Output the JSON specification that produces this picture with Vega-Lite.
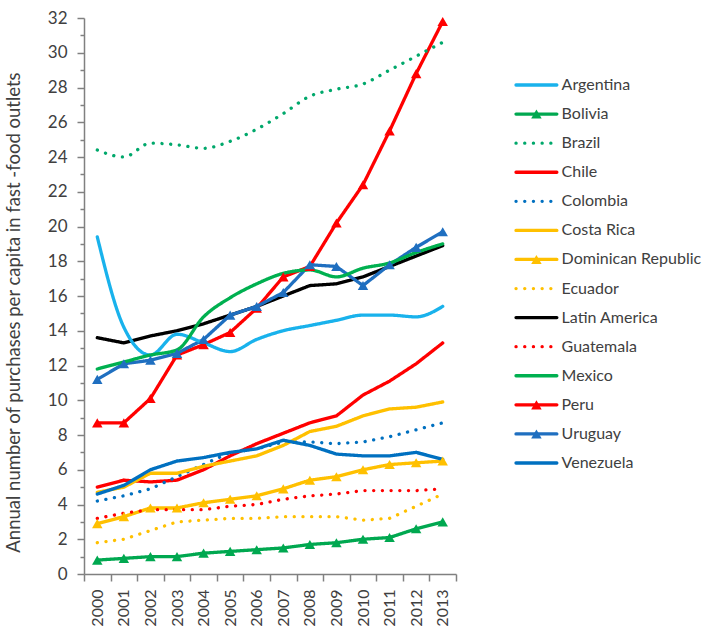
{
  "$schema": "https://vega.github.io/schema/vega-lite/v6.json",
  "padding": {"left": 4, "top": 9, "right": 5, "bottom": 5},
  "background": "white",
  "config": {"view": {"stroke": null}, "font": "Lato"},
  "spacing": 57,
  "datasets": {
    "series": [
      {"country": "Argentina", "year": 2000, "value": 19.4}, {"country": "Argentina", "year": 2001, "value": 14.2}, {"country": "Argentina", "year": 2002, "value": 12.6}, {"country": "Argentina", "year": 2003, "value": 13.8}, {"country": "Argentina", "year": 2004, "value": 13.3}, {"country": "Argentina", "year": 2005, "value": 12.8}, {"country": "Argentina", "year": 2006, "value": 13.5}, {"country": "Argentina", "year": 2007, "value": 14.0}, {"country": "Argentina", "year": 2008, "value": 14.3}, {"country": "Argentina", "year": 2009, "value": 14.6}, {"country": "Argentina", "year": 2010, "value": 14.9}, {"country": "Argentina", "year": 2011, "value": 14.9}, {"country": "Argentina", "year": 2012, "value": 14.8}, {"country": "Argentina", "year": 2013, "value": 15.4},
      {"country": "Bolivia", "year": 2000, "value": 0.8}, {"country": "Bolivia", "year": 2001, "value": 0.9}, {"country": "Bolivia", "year": 2002, "value": 1.0}, {"country": "Bolivia", "year": 2003, "value": 1.0}, {"country": "Bolivia", "year": 2004, "value": 1.2}, {"country": "Bolivia", "year": 2005, "value": 1.3}, {"country": "Bolivia", "year": 2006, "value": 1.4}, {"country": "Bolivia", "year": 2007, "value": 1.5}, {"country": "Bolivia", "year": 2008, "value": 1.7}, {"country": "Bolivia", "year": 2009, "value": 1.8}, {"country": "Bolivia", "year": 2010, "value": 2.0}, {"country": "Bolivia", "year": 2011, "value": 2.1}, {"country": "Bolivia", "year": 2012, "value": 2.6}, {"country": "Bolivia", "year": 2013, "value": 3.0},
      {"country": "Brazil", "year": 2000, "value": 24.4}, {"country": "Brazil", "year": 2001, "value": 24.0}, {"country": "Brazil", "year": 2002, "value": 24.8}, {"country": "Brazil", "year": 2003, "value": 24.7}, {"country": "Brazil", "year": 2004, "value": 24.5}, {"country": "Brazil", "year": 2005, "value": 24.9}, {"country": "Brazil", "year": 2006, "value": 25.6}, {"country": "Brazil", "year": 2007, "value": 26.5}, {"country": "Brazil", "year": 2008, "value": 27.5}, {"country": "Brazil", "year": 2009, "value": 27.9}, {"country": "Brazil", "year": 2010, "value": 28.2}, {"country": "Brazil", "year": 2011, "value": 29.0}, {"country": "Brazil", "year": 2012, "value": 29.8}, {"country": "Brazil", "year": 2013, "value": 30.6},
      {"country": "Chile", "year": 2000, "value": 5.0}, {"country": "Chile", "year": 2001, "value": 5.4}, {"country": "Chile", "year": 2002, "value": 5.3}, {"country": "Chile", "year": 2003, "value": 5.4}, {"country": "Chile", "year": 2004, "value": 6.0}, {"country": "Chile", "year": 2005, "value": 6.8}, {"country": "Chile", "year": 2006, "value": 7.5}, {"country": "Chile", "year": 2007, "value": 8.1}, {"country": "Chile", "year": 2008, "value": 8.7}, {"country": "Chile", "year": 2009, "value": 9.1}, {"country": "Chile", "year": 2010, "value": 10.3}, {"country": "Chile", "year": 2011, "value": 11.1}, {"country": "Chile", "year": 2012, "value": 12.1}, {"country": "Chile", "year": 2013, "value": 13.3},
      {"country": "Colombia", "year": 2000, "value": 4.2}, {"country": "Colombia", "year": 2001, "value": 4.5}, {"country": "Colombia", "year": 2002, "value": 4.9}, {"country": "Colombia", "year": 2003, "value": 5.6}, {"country": "Colombia", "year": 2004, "value": 6.3}, {"country": "Colombia", "year": 2005, "value": 7.0}, {"country": "Colombia", "year": 2006, "value": 7.2}, {"country": "Colombia", "year": 2007, "value": 7.6}, {"country": "Colombia", "year": 2008, "value": 7.6}, {"country": "Colombia", "year": 2009, "value": 7.5}, {"country": "Colombia", "year": 2010, "value": 7.6}, {"country": "Colombia", "year": 2011, "value": 7.9}, {"country": "Colombia", "year": 2012, "value": 8.3}, {"country": "Colombia", "year": 2013, "value": 8.7},
      {"country": "Costa Rica", "year": 2000, "value": 4.7}, {"country": "Costa Rica", "year": 2001, "value": 5.0}, {"country": "Costa Rica", "year": 2002, "value": 5.8}, {"country": "Costa Rica", "year": 2003, "value": 5.8}, {"country": "Costa Rica", "year": 2004, "value": 6.2}, {"country": "Costa Rica", "year": 2005, "value": 6.5}, {"country": "Costa Rica", "year": 2006, "value": 6.8}, {"country": "Costa Rica", "year": 2007, "value": 7.4}, {"country": "Costa Rica", "year": 2008, "value": 8.2}, {"country": "Costa Rica", "year": 2009, "value": 8.5}, {"country": "Costa Rica", "year": 2010, "value": 9.1}, {"country": "Costa Rica", "year": 2011, "value": 9.5}, {"country": "Costa Rica", "year": 2012, "value": 9.6}, {"country": "Costa Rica", "year": 2013, "value": 9.9},
      {"country": "Dominican Republic", "year": 2000, "value": 2.9}, {"country": "Dominican Republic", "year": 2001, "value": 3.3}, {"country": "Dominican Republic", "year": 2002, "value": 3.8}, {"country": "Dominican Republic", "year": 2003, "value": 3.8}, {"country": "Dominican Republic", "year": 2004, "value": 4.1}, {"country": "Dominican Republic", "year": 2005, "value": 4.3}, {"country": "Dominican Republic", "year": 2006, "value": 4.5}, {"country": "Dominican Republic", "year": 2007, "value": 4.9}, {"country": "Dominican Republic", "year": 2008, "value": 5.4}, {"country": "Dominican Republic", "year": 2009, "value": 5.6}, {"country": "Dominican Republic", "year": 2010, "value": 6.0}, {"country": "Dominican Republic", "year": 2011, "value": 6.3}, {"country": "Dominican Republic", "year": 2012, "value": 6.4}, {"country": "Dominican Republic", "year": 2013, "value": 6.5},
      {"country": "Ecuador", "year": 2000, "value": 1.8}, {"country": "Ecuador", "year": 2001, "value": 2.0}, {"country": "Ecuador", "year": 2002, "value": 2.5}, {"country": "Ecuador", "year": 2003, "value": 3.0}, {"country": "Ecuador", "year": 2004, "value": 3.1}, {"country": "Ecuador", "year": 2005, "value": 3.2}, {"country": "Ecuador", "year": 2006, "value": 3.2}, {"country": "Ecuador", "year": 2007, "value": 3.3}, {"country": "Ecuador", "year": 2008, "value": 3.3}, {"country": "Ecuador", "year": 2009, "value": 3.3}, {"country": "Ecuador", "year": 2010, "value": 3.1}, {"country": "Ecuador", "year": 2011, "value": 3.2}, {"country": "Ecuador", "year": 2012, "value": 3.9}, {"country": "Ecuador", "year": 2013, "value": 4.6},
      {"country": "Latin America", "year": 2000, "value": 13.6}, {"country": "Latin America", "year": 2001, "value": 13.3}, {"country": "Latin America", "year": 2002, "value": 13.7}, {"country": "Latin America", "year": 2003, "value": 14.0}, {"country": "Latin America", "year": 2004, "value": 14.4}, {"country": "Latin America", "year": 2005, "value": 14.9}, {"country": "Latin America", "year": 2006, "value": 15.4}, {"country": "Latin America", "year": 2007, "value": 16.0}, {"country": "Latin America", "year": 2008, "value": 16.6}, {"country": "Latin America", "year": 2009, "value": 16.7}, {"country": "Latin America", "year": 2010, "value": 17.1}, {"country": "Latin America", "year": 2011, "value": 17.7}, {"country": "Latin America", "year": 2012, "value": 18.3}, {"country": "Latin America", "year": 2013, "value": 18.9},
      {"country": "Guatemala", "year": 2000, "value": 3.2}, {"country": "Guatemala", "year": 2001, "value": 3.5}, {"country": "Guatemala", "year": 2002, "value": 3.7}, {"country": "Guatemala", "year": 2003, "value": 3.7}, {"country": "Guatemala", "year": 2004, "value": 3.7}, {"country": "Guatemala", "year": 2005, "value": 3.9}, {"country": "Guatemala", "year": 2006, "value": 4.0}, {"country": "Guatemala", "year": 2007, "value": 4.3}, {"country": "Guatemala", "year": 2008, "value": 4.5}, {"country": "Guatemala", "year": 2009, "value": 4.6}, {"country": "Guatemala", "year": 2010, "value": 4.8}, {"country": "Guatemala", "year": 2011, "value": 4.8}, {"country": "Guatemala", "year": 2012, "value": 4.8}, {"country": "Guatemala", "year": 2013, "value": 4.9},
      {"country": "Mexico", "year": 2000, "value": 11.8}, {"country": "Mexico", "year": 2001, "value": 12.2}, {"country": "Mexico", "year": 2002, "value": 12.6}, {"country": "Mexico", "year": 2003, "value": 12.9}, {"country": "Mexico", "year": 2004, "value": 14.8}, {"country": "Mexico", "year": 2005, "value": 15.9}, {"country": "Mexico", "year": 2006, "value": 16.7}, {"country": "Mexico", "year": 2007, "value": 17.3}, {"country": "Mexico", "year": 2008, "value": 17.5}, {"country": "Mexico", "year": 2009, "value": 17.1}, {"country": "Mexico", "year": 2010, "value": 17.6}, {"country": "Mexico", "year": 2011, "value": 17.9}, {"country": "Mexico", "year": 2012, "value": 18.5}, {"country": "Mexico", "year": 2013, "value": 19.0},
      {"country": "Peru", "year": 2000, "value": 8.7}, {"country": "Peru", "year": 2001, "value": 8.7}, {"country": "Peru", "year": 2002, "value": 10.1}, {"country": "Peru", "year": 2003, "value": 12.6}, {"country": "Peru", "year": 2004, "value": 13.2}, {"country": "Peru", "year": 2005, "value": 13.9}, {"country": "Peru", "year": 2006, "value": 15.3}, {"country": "Peru", "year": 2007, "value": 17.1}, {"country": "Peru", "year": 2008, "value": 17.7}, {"country": "Peru", "year": 2009, "value": 20.2}, {"country": "Peru", "year": 2010, "value": 22.4}, {"country": "Peru", "year": 2011, "value": 25.5}, {"country": "Peru", "year": 2012, "value": 28.8}, {"country": "Peru", "year": 2013, "value": 31.8},
      {"country": "Uruguay", "year": 2000, "value": 11.2}, {"country": "Uruguay", "year": 2001, "value": 12.1}, {"country": "Uruguay", "year": 2002, "value": 12.3}, {"country": "Uruguay", "year": 2003, "value": 12.7}, {"country": "Uruguay", "year": 2004, "value": 13.5}, {"country": "Uruguay", "year": 2005, "value": 14.9}, {"country": "Uruguay", "year": 2006, "value": 15.4}, {"country": "Uruguay", "year": 2007, "value": 16.2}, {"country": "Uruguay", "year": 2008, "value": 17.8}, {"country": "Uruguay", "year": 2009, "value": 17.7}, {"country": "Uruguay", "year": 2010, "value": 16.6}, {"country": "Uruguay", "year": 2011, "value": 17.8}, {"country": "Uruguay", "year": 2012, "value": 18.8}, {"country": "Uruguay", "year": 2013, "value": 19.7},
      {"country": "Venezuela", "year": 2000, "value": 4.6}, {"country": "Venezuela", "year": 2001, "value": 5.1}, {"country": "Venezuela", "year": 2002, "value": 6.0}, {"country": "Venezuela", "year": 2003, "value": 6.5}, {"country": "Venezuela", "year": 2004, "value": 6.7}, {"country": "Venezuela", "year": 2005, "value": 7.0}, {"country": "Venezuela", "year": 2006, "value": 7.2}, {"country": "Venezuela", "year": 2007, "value": 7.7}, {"country": "Venezuela", "year": 2008, "value": 7.4}, {"country": "Venezuela", "year": 2009, "value": 6.9}, {"country": "Venezuela", "year": 2010, "value": 6.8}, {"country": "Venezuela", "year": 2011, "value": 6.8}, {"country": "Venezuela", "year": 2012, "value": 7.0}, {"country": "Venezuela", "year": 2013, "value": 6.6}
    ],
    "countries": [
      {"country": "Argentina"}, {"country": "Bolivia"}, {"country": "Brazil"}, {"country": "Chile"}, {"country": "Colombia"}, {"country": "Costa Rica"}, {"country": "Dominican Republic"}, {"country": "Ecuador"}, {"country": "Latin America"}, {"country": "Guatemala"}, {"country": "Mexico"}, {"country": "Peru"}, {"country": "Uruguay"}, {"country": "Venezuela"}
    ]
  },
  "hconcat": [
    {
      "width": 372,
      "height": 556,
      "data": {"name": "series"},
      "encoding": {
        "x": {
          "field": "year", "type": "ordinal", "bandPosition": 0.5,
          "scale": {"type": "band", "paddingInner": 0, "paddingOuter": 0},
          "axis": {"title": null, "labelAngle": -90, "labelFontSize": 16, "labelColor": "#404040", "labelPadding": 8, "tickSize": 7, "tickBand": "extent", "tickColor": "#808080", "domainColor": "#808080", "domainWidth": 1.5, "tickWidth": 1.5}
        },
        "y": {
          "field": "value", "type": "quantitative",
          "scale": {"domain": [0, 32], "nice": false},
          "axis": {
            "title": "Annual number of purchases per capita in fast -food outlets",
            "titleFontSize": 18.5, "titleFontWeight": "normal", "titleColor": "#404040", "titlePadding": 24, "titleY": 294,
            "values": [0,1,2,3,4,5,6,7,8,9,10,11,12,13,14,15,16,17,18,19,20,21,22,23,24,25,26,27,28,29,30,31,32],
            "labelExpr": "datum.value % 2 === 0 ? datum.label : ''",
            "labelOverlap": false, "labelFontSize": 17, "labelColor": "#404040", "labelPadding": 10,
            "tickSize": {"condition": {"test": "datum.value % 2 === 0", "value": 7}, "value": 4},
            "tickColor": "#808080", "domainColor": "#808080", "domainWidth": 1.5, "tickWidth": 1.5, "grid": false
          }
        },
        "color": {
          "field": "country", "type": "nominal", "legend": null,
          "scale": {
            "domain": ["Argentina", "Bolivia", "Brazil", "Chile", "Colombia", "Costa Rica", "Dominican Republic", "Ecuador", "Latin America", "Guatemala", "Mexico", "Peru", "Uruguay", "Venezuela"],
            "range": ["#19B2EC", "#00A850", "#00A86B", "#FF0000", "#0070C0", "#FFC000", "#FFC000", "#FFC000", "#000000", "#FF0000", "#00B050", "#FF0000", "#1F6FC0", "#0070C0"]
          }
        }
      },
      "layer": [
        {
          "transform": [{"filter": {"not": {"field": "country", "oneOf": ["Argentina", "Brazil", "Mexico"]}}}],
          "mark": {"type": "line", "strokeWidth": 3.3, "strokeCap": "round"},
          "encoding": {
            "strokeDash": {
              "field": "country", "type": "nominal", "legend": null,
              "scale": {
                "domain": ["Argentina", "Bolivia", "Brazil", "Chile", "Colombia", "Costa Rica", "Dominican Republic", "Ecuador", "Latin America", "Guatemala", "Mexico", "Peru", "Uruguay", "Venezuela"],
                "range": [[1, 0], [1, 0], [0.1, 8.6], [1, 0], [0.1, 8.6], [1, 0], [1, 0], [0.1, 8.6], [1, 0], [0.1, 8.6], [1, 0], [1, 0], [1, 0], [1, 0]]
              }
            }
          }
        },
        {
          "transform": [{"filter": {"field": "country", "oneOf": ["Argentina", "Brazil", "Mexico"]}}],
          "mark": {"type": "line", "strokeWidth": 3.3, "strokeCap": "round", "interpolate": "monotone"},
          "encoding": {
            "strokeDash": {"field": "country", "type": "nominal", "legend": null}
          }
        },
        {
          "transform": [{"filter": {"field": "country", "oneOf": ["Bolivia", "Dominican Republic", "Peru", "Uruguay"]}}],
          "mark": {"type": "point", "shape": "triangle-up", "filled": true, "size": 110, "opacity": 1}
        }
      ]
    },
    {
      "width": 190,
      "height": 556,
      "data": {"name": "countries"},
      "encoding": {
        "y": {
          "field": "country", "type": "nominal", "axis": null,
          "scale": {"type": "point", "padding": 0, "range": [67, 445], "domain": ["Argentina", "Bolivia", "Brazil", "Chile", "Colombia", "Costa Rica", "Dominican Republic", "Ecuador", "Latin America", "Guatemala", "Mexico", "Peru", "Uruguay", "Venezuela"]}
        }
      },
      "layer": [
        {
          "mark": {"type": "rule", "strokeWidth": 3.3, "strokeCap": "round"},
          "encoding": {
            "x": {"datum": 0, "type": "quantitative", "scale": {"domain": [0, 190]}, "axis": null},
            "x2": {"datum": 43},
            "color": {"field": "country", "type": "nominal", "legend": null},
            "strokeDash": {"field": "country", "type": "nominal", "legend": null}
          }
        },
        {
          "transform": [{"filter": {"field": "country", "oneOf": ["Bolivia", "Dominican Republic", "Peru", "Uruguay"]}}],
          "mark": {"type": "point", "shape": "triangle-up", "filled": true, "size": 110, "opacity": 1},
          "encoding": {
            "x": {"datum": 21.5, "type": "quantitative"},
            "color": {"field": "country", "type": "nominal", "legend": null}
          }
        },
        {
          "mark": {"type": "text", "align": "left", "baseline": "middle", "fontSize": 16, "color": "#404040"},
          "encoding": {
            "x": {"datum": 48, "type": "quantitative"},
            "text": {"field": "country"}
          }
        }
      ]
    }
  ]
}
